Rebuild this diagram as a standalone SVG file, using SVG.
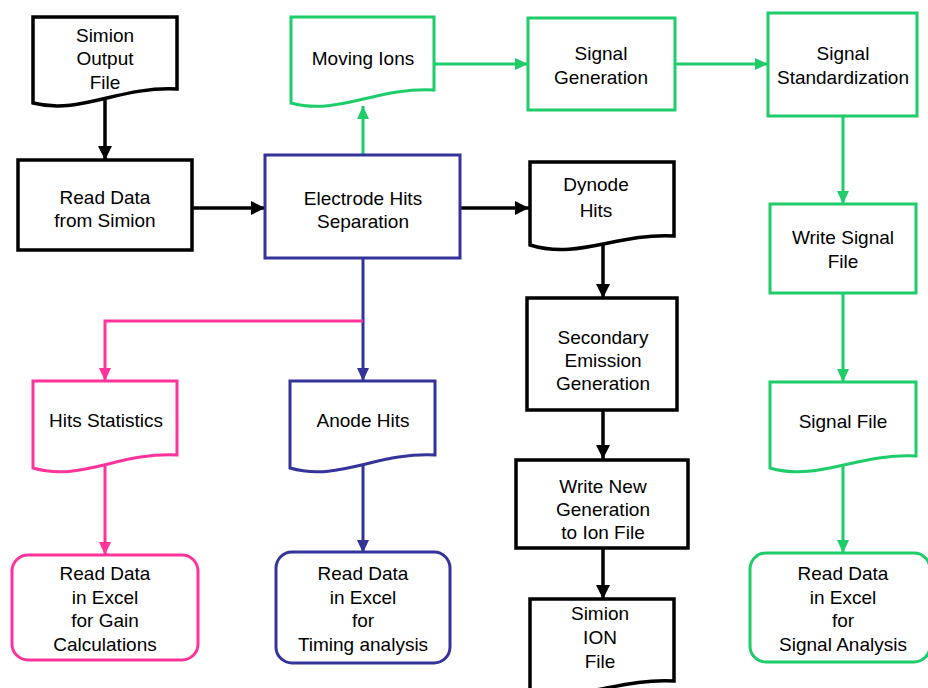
<svg xmlns="http://www.w3.org/2000/svg" width="928" height="688" viewBox="0 0 928 688">
  <defs>
    <style>
      text { font-family: "Liberation Sans", Arial, sans-serif; font-size: 19px; fill: #000; text-anchor: middle; }
      .shape { fill: #fff; stroke-width: 3; stroke-linejoin: miter; }
      .k { stroke: #000; stroke-width: 3.5; }
      .g { stroke: #1ecc6a; }
      .b { stroke: #333399; }
      .p { stroke: #ff3399; }
      .line { fill: none; stroke-width: 3; }
      .line.k { stroke-width: 3.5; }
    </style>
    <marker id="ak" markerUnits="userSpaceOnUse" markerWidth="16" markerHeight="16" refX="14" refY="8" orient="auto">
      <path d="M0,1 L14,8 L0,15 Z" fill="#000"/>
    </marker>
    <marker id="ag" markerUnits="userSpaceOnUse" markerWidth="16" markerHeight="16" refX="14" refY="8" orient="auto">
      <path d="M1,2 L14,8 L1,14 Z" fill="#1ecc6a"/>
    </marker>
    <marker id="ab" markerUnits="userSpaceOnUse" markerWidth="16" markerHeight="16" refX="14" refY="8" orient="auto">
      <path d="M1,2 L14,8 L1,14 Z" fill="#333399"/>
    </marker>
    <marker id="ap" markerUnits="userSpaceOnUse" markerWidth="16" markerHeight="16" refX="14" refY="8" orient="auto">
      <path d="M1,2 L14,8 L1,14 Z" fill="#ff3399"/>
    </marker>
  </defs>

  <!-- connectors -->
  <g id="connectors">
    <path class="line k" d="M105,100 V160" marker-end="url(#ak)"/>
    <path class="line k" d="M192,208 H265" marker-end="url(#ak)"/>
    <path class="line k" d="M460,208 H529" marker-end="url(#ak)"/>
    <path class="line k" d="M603,244 V298" marker-end="url(#ak)"/>
    <path class="line k" d="M603,410 V459" marker-end="url(#ak)"/>
    <path class="line k" d="M603,548 V599" marker-end="url(#ak)"/>
    <path class="line g" d="M363,155 V106" marker-end="url(#ag)"/>
    <path class="line g" d="M435,64 H528" marker-end="url(#ag)"/>
    <path class="line g" d="M675,64 H768" marker-end="url(#ag)"/>
    <path class="line g" d="M843,116 V204" marker-end="url(#ag)"/>
    <path class="line g" d="M843,293 V382" marker-end="url(#ag)"/>
    <path class="line g" d="M843,465 V553" marker-end="url(#ag)"/>
    <path class="line b" d="M363,258 V381" marker-end="url(#ab)"/>
    <path class="line b" d="M363,465 V553" marker-end="url(#ab)"/>
    <path class="line p" d="M363,321 H105 V381" marker-end="url(#ap)"/>
    <path class="line p" d="M105,465 V555" marker-end="url(#ap)"/>
  </g>

  <!-- black chain -->
  <g id="simion-output-file">
    <path class="shape k" d="M33,17 H177 V89 C119,86 81,115 33,103 Z"/>
    <text x="105" y="42">Simion</text>
    <text x="105" y="65">Output</text>
    <text x="105" y="89">File</text>
  </g>
  <g id="read-data-from-simion">
    <rect class="shape k" x="18" y="160" width="174" height="90"/>
    <text x="105" y="204">Read Data</text>
    <text x="105" y="227">from Simion</text>
  </g>
  <g id="electrode-hits-separation">
    <rect class="shape b" x="265" y="155" width="195" height="103"/>
    <text x="363" y="205">Electrode Hits</text>
    <text x="363" y="228">Separation</text>
  </g>
  <g id="dynode-hits">
    <path class="shape k" d="M530,162 H674 V236 C616,233 578,260 530,245 Z"/>
    <text x="596" y="191">Dynode</text>
    <text x="596" y="217">Hits</text>
  </g>
  <g id="secondary-emission-generation">
    <rect class="shape k" x="527" y="298" width="150" height="112"/>
    <text x="603" y="344">Secondary</text>
    <text x="603" y="367">Emission</text>
    <text x="603" y="390">Generation</text>
  </g>
  <g id="write-new-generation">
    <rect class="shape k" x="516" y="460" width="172" height="88"/>
    <text x="603" y="493">Write New</text>
    <text x="603" y="516">Generation</text>
    <text x="603" y="539">to Ion File</text>
  </g>
  <g id="simion-ion-file">
    <path class="shape k" d="M530,599 H674 V681 C616,678 578,704 530,690 Z"/>
    <text x="600" y="620">Simion</text>
    <text x="600" y="644">ION</text>
    <text x="600" y="668">File</text>
  </g>

  <!-- green chain -->
  <g id="moving-ions">
    <path class="shape g" d="M291,17 H434 V90 C376,87 338,116 291,103 Z"/>
    <text x="363" y="65">Moving Ions</text>
  </g>
  <g id="signal-generation">
    <rect class="shape g" x="528" y="18" width="147" height="92"/>
    <text x="601" y="60">Signal</text>
    <text x="601" y="84">Generation</text>
  </g>
  <g id="signal-standardization">
    <rect class="shape g" x="768" y="13" width="149" height="103"/>
    <text x="843" y="60">Signal</text>
    <text x="843" y="84">Standardization</text>
  </g>
  <g id="write-signal-file">
    <rect class="shape g" x="770" y="204" width="146" height="89"/>
    <text x="843" y="244">Write Signal</text>
    <text x="843" y="268">File</text>
  </g>
  <g id="signal-file">
    <path class="shape g" d="M770,382 H916 V456 C857,453 818,482 770,468 Z"/>
    <text x="843" y="428">Signal File</text>
  </g>
  <g id="read-data-signal-analysis">
    <rect class="shape g" x="750" y="553" width="180" height="109" rx="16" ry="16"/>
    <text x="843" y="580">Read Data</text>
    <text x="843" y="604">in Excel</text>
    <text x="843" y="627">for</text>
    <text x="843" y="651">Signal Analysis</text>
  </g>

  <!-- blue chain -->
  <g id="anode-hits">
    <path class="shape b" d="M290,381 H435 V455 C377,452 338,482 290,468 Z"/>
    <text x="363" y="427">Anode Hits</text>
  </g>
  <g id="read-data-timing-analysis">
    <rect class="shape b" x="276" y="552" width="174" height="111" rx="16" ry="16"/>
    <text x="363" y="580">Read Data</text>
    <text x="363" y="604">in Excel</text>
    <text x="363" y="627">for</text>
    <text x="363" y="651">Timing analysis</text>
  </g>

  <!-- pink chain -->
  <g id="hits-statistics">
    <path class="shape p" d="M33,381 H177 V455 C119,452 81,482 33,468 Z"/>
    <text x="106" y="427">Hits Statistics</text>
  </g>
  <g id="read-data-gain-calculations">
    <rect class="shape p" x="12" y="555" width="186" height="105" rx="16" ry="16"/>
    <text x="105" y="580">Read Data</text>
    <text x="105" y="604">in Excel</text>
    <text x="105" y="627">for Gain</text>
    <text x="105" y="651">Calculations</text>
  </g>
</svg>
